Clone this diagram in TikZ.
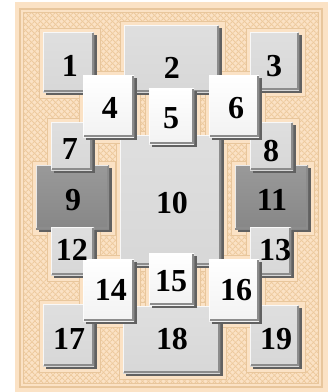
\documentclass[tikz,border=0pt]{standalone}
\usepackage{fontspec}
\setmainfont{Liberation Serif}
\usetikzlibrary{shadows,patterns.meta}
\definecolor{peach}{HTML}{FBE2C5}
\definecolor{tanline}{HTML}{E8C69C}
\definecolor{lattice}{HTML}{EDCA9E}
\definecolor{lightgray}{HTML}{D4D4D4}
\definecolor{darkgray}{HTML}{8E8E8E}
\begin{document}
\begin{tikzpicture}[x=1pt,y=-1pt,
  tilebase/.style={draw=none,inner sep=0pt,outer sep=0pt,
    drop shadow={shadow xshift=3pt,shadow yshift=-3pt,fill=black!62,opacity=1},
    path picture={
      \draw[white,line width=1.4pt,opacity=0.8] ([xshift=0.7pt,yshift=0.7pt]path picture bounding box.south west) -- ([xshift=0.7pt,yshift=-0.7pt]path picture bounding box.north west) -- ([xshift=-0.7pt,yshift=-0.7pt]path picture bounding box.north east);
      \draw[black!45,line width=1.6pt] ([xshift=-0.8pt,yshift=-0.8pt]path picture bounding box.north east) -- ([xshift=-0.8pt,yshift=0.8pt]path picture bounding box.south east) -- ([xshift=0.8pt,yshift=0.8pt]path picture bounding box.south west);
    }},
  lt/.style={tilebase,top color=lightgray!75,bottom color=lightgray!100!black!92},
  dk/.style={tilebase,top color=darkgray!90!white,bottom color=darkgray!95!black},
  wt/.style={tilebase,top color=white,bottom color=black!5},
  halo/.style={fill=peach,draw=tanline,line width=0.6pt},
  num/.style={font=\fontsize{32}{32}\selectfont\bfseries,text=black,inner sep=0pt}]
\useasboundingbox (0,0) rectangle (328,392);
% panel
\fill[white] (0,0) rectangle (328,392);
\fill[peach] (15,2) rectangle (328,392);
\fill[peach] (22,11) rectangle (320,385);
\fill[pattern={Lines[angle=45,distance=4pt,line width=1.2pt]},pattern color=lattice] (24,13) rectangle (318,383);
\fill[pattern={Lines[angle=-45,distance=4pt,line width=1.2pt]},pattern color=lattice] (24,13) rectangle (318,383);
\draw[tanline,line width=1.4pt] (20,9) rectangle (322,387);
\draw[tanline,line width=0.7pt] (23.5,12.5) rectangle (318.5,383.5);
% tiles: name/x1/y1/x2/y2/style
\def\tilelist{1/43/32/94/92/lt,2/124/25/219/92/lt,3/250/32/299/90/lt,9/36/165/109/229/dk,11/235/165/308/229/dk,7/51/122/92/170/lt,8/250/122/293/170/lt,12/51/227/94/275/lt,13/250/227/291/275/lt,10/120/135/221/265/lt,17/43/304/94/366/lt,18/123/306/220/373/lt,19/250/305/299/366/lt,4/83/75/134/137/wt,5/149/88/194/144/wt,6/209/75/259/137/wt,14/83/259/134/321/wt,15/149/253/194/305/wt,16/209/259/259/321/wt}
\foreach \n/\a/\b/\c/\d/\s in \tilelist {
  \fill[halo] (\a-4,\b-4) rectangle (\c+6,\d+6);
}
\foreach \n/\a/\b/\c/\d/\s in \tilelist {
  \pgfmathsetmacro\w{\c-\a}
  \pgfmathsetmacro\h{\d-\b}
  \node[\s,minimum width=\w pt,minimum height=\h pt] (t\n) at ({(\a+\c)/2},{(\b+\d)/2}) {};
}
% numbers
\foreach \n/\x/\y in {1/70/66,2/172/68,3/274/66,4/110/108,5/171/118,6/236/108,7/70/149,8/271/151,9/73/200,10/172/203,11/272/200,12/72/250,13/275/250,14/111/290,15/171/281,16/236/290,17/69/339,18/172/339,19/276/339} {
  \node[num] (n\n) at (\x,\y) {\n};
}
\end{tikzpicture}
\end{document}
